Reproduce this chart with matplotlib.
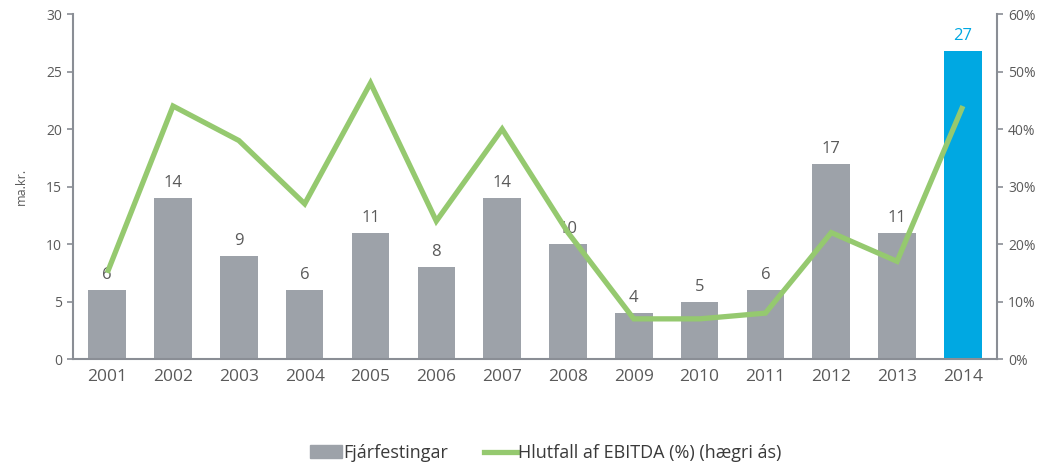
import matplotlib.pyplot as plt
from matplotlib.ticker import FuncFormatter

plt.rcParams['font.family'] = ['Open Sans', 'DejaVu Sans']

years = ['2001', '2002', '2003', '2004', '2005', '2006', '2007',
         '2008', '2009', '2010', '2011', '2012', '2013', '2014']
investments = [6, 14, 9, 6, 11, 8, 14, 10, 4, 5, 6, 17, 11, 26.8]
ebitda_ratio = [15, 44, 38, 27, 48, 24, 40, 22, 7, 7, 8, 22, 17, 44]

grey = '#9da2a9'
blue = '#00a8e2'
green = '#95c96f'
text_col = '#5a5a5a'
axis_col = '#8a8e95'

fig = plt.figure(figsize=(10.43, 4.67), dpi=100)
ax = fig.add_axes([0.070, 0.231, 0.886, 0.739])
ax2 = ax.twinx()

x = list(range(len(years)))
colors = [grey] * (len(years) - 1) + [blue]
ax.bar(x, investments, width=0.57, color=colors, zorder=2)

for i, v in enumerate(investments):
    ax.annotate(f'{round(v)}', (i, v), xytext=(0, 5), textcoords='offset points',
                ha='center', va='bottom', fontsize=12,
                color=blue if i == len(years) - 1 else text_col, zorder=1)

ax2.plot(x, ebitda_ratio, color=green, linewidth=3.8, solid_joinstyle='miter',
         solid_capstyle='butt')

ax.set_xlim(-0.52, len(years) - 0.48)
ax.set_ylim(0, 30)
ax2.set_ylim(0, 60)
ax.set_yticks(range(0, 31, 5))
ax2.set_yticks(range(0, 61, 10))
ax2.yaxis.set_major_formatter(FuncFormatter(lambda v, p: f'{int(v)}%'))
ax.set_xticks(x)
ax.set_xticklabels(years)

for a in (ax, ax2):
    for s in a.spines.values():
        s.set_visible(False)
ax.spines['left'].set_visible(True)
ax.spines['bottom'].set_visible(True)
ax2.spines['right'].set_visible(True)
for s in (ax.spines['left'], ax.spines['bottom'], ax2.spines['right']):
    s.set_color(axis_col)
    s.set_linewidth(1.5)

ax.tick_params(axis='y', colors=axis_col, labelcolor=text_col, labelsize=10,
               length=4, width=1.2, pad=4)
ax.tick_params(axis='x', length=0, labelcolor=text_col, labelsize=12.5, pad=7)
ax2.tick_params(axis='y', colors=axis_col, labelcolor=text_col, labelsize=10,
                length=4, width=1.2, pad=4)

ax.set_ylabel('ma.kr.', fontsize=9, color=text_col, labelpad=13)

bar_handle = plt.Rectangle((0, 0), 1, 1, color=grey)
line_handle = plt.Line2D([0], [0], color=green, linewidth=3.8)
leg = fig.legend([bar_handle, line_handle],
                 ['Fjárfestingar', 'Hlutfall af EBITDA (%) (hægri ás)'],
                 loc='center', bbox_to_anchor=(0.523, 0.03), ncol=2,
                 frameon=False, fontsize=13, handlelength=1.8,
                 handleheight=0.75, handletextpad=0.05, columnspacing=2.0)
for t in leg.get_texts():
    t.set_color('#3a3a3a')

fig.savefig('out.png', dpi=100)
